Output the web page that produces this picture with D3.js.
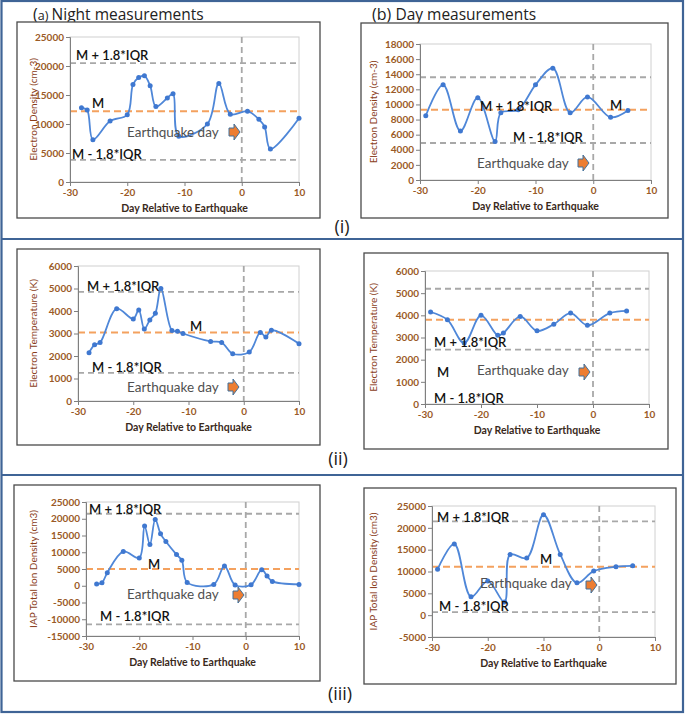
<!DOCTYPE html>
<html><head><meta charset="utf-8">
<script src="https://cdn.jsdelivr.net/npm/d3@7"></script>
<style>
html,body{margin:0;padding:0;background:#fff;}
svg{display:block;font-family:Lato,"Open Sans",sans-serif;}
</style></head>
<body>
<svg id="chart" width="685" height="715"></svg>
<script>
// ---------------- DATA ----------------
const xTicks = [-30, -20, -10, 0, 10];
const refLabels = ["M + 1.8*IQR", "M", "M - 1.8*IQR"];
const eqLabel = "Earthquake day";
const xTitle = "Day Relative to Earthquake";
const rowLabels = ["(i)", "(ii)", "(iii)"];

// (a)(i) night electron density
const nightDensityDays = [-28,-27,-26,-23,-20,-19,-18,-17,-16,-15,-13,-12,-11,-6,-4,-2,1,3,4,5,10];
const nightDensityVals = [12800,12400,7300,10500,11600,16800,18000,18300,16600,13000,14500,15200,7900,10000,17000,11700,12200,10800,9500,5700,11000];
const nightDensityRefs = [20500, 12200, 3800];
const nightDensityTicks = [0,5000,10000,15000,20000,25000];

// (b)(i) day electron density
const dayDensityDays = [-29,-26,-23,-20,-17,-16,-13,-10,-7,-4,-1,3,6];
const dayDensityVals = [8500,12600,6500,10900,5100,8900,9300,12600,14800,8900,11000,8300,9200];
const dayDensityRefs = [13600, 9300, 4900];
const dayDensityTicks = [0,2000,4000,6000,8000,10000,12000,14000,16000,18000];

// (a)(ii) night electron temperature
const nightTempDays = [-28,-27,-26,-23,-20,-19,-18,-17,-16,-15,-13,-12,-11,-6,-4,-2,1,3,4,5,10];
const nightTempVals = [2150,2500,2600,4100,3650,4050,3200,3600,3900,5000,3130,3100,3000,2650,2600,2100,2180,3050,2850,3150,2550];
const nightTempRefs = [4850, 3050, 1250];
const nightTempTicks = [0,1000,2000,3000,4000,5000,6000];

// (b)(ii) day electron temperature
const dayTempDays = [-29,-26,-23,-20,-17,-16,-13,-10,-7,-4,-1,3,6];
const dayTempVals = [4150,3800,2750,4000,3100,3200,3950,3300,3600,4100,3550,4100,4200];
const dayTempRefs = [5200, 3800, 2450];
const dayTempTicks = [0,1000,2000,3000,4000,5000,6000];

// (a)(iii) night IAP total ion density
const nightIonDays = [-28,-27,-26,-23,-20,-19,-18,-17,-16,-15,-13,-12,-11,-6,-4,-2,1,3,4,5,10];
const nightIonVals = [500,900,3900,10200,8300,17800,12300,19800,15500,13200,9300,7600,1000,400,5900,200,300,4800,2900,1300,400];
const nightIonRefs = [21500, 5000, -11500];
const nightIonTicks = [-15000,-10000,-5000,0,5000,10000,15000,20000,25000];

// (b)(iii) day IAP total ion density
const dayIonDays = [-29,-26,-23,-20,-17,-16,-13,-10,-7,-4,-1,3,6];
const dayIonVals = [10500,16300,4200,7800,3000,13900,13100,23000,13900,7400,10100,11100,11300];
const dayIonRefs = [21500, 11100, 700];
const dayIonTicks = [-5000,0,5000,10000,15000,20000,25000];

// ---------------- LAYOUT ----------------
const panels = [
  {days: nightDensityDays, vals: nightDensityVals, refs: nightDensityRefs, ticks: nightDensityTicks,
   ytitle: "Electron Density (cm-3)",
   box: [17,22,320,218], px: [70,299], py: [182,37], ytX: 33,
   lab: [[76,60],[92,108],[72,159]], eq: [127,137], arrow: [229,132]},
  {days: dayDensityDays, vals: dayDensityVals, refs: dayDensityRefs, ticks: dayDensityTicks,
   ytitle: "Electron Density (cm-3)",
   box: [361,23,668,218], px: [420,651], py: [180,44], ytX: 373,
   lab: [[480,111],[610,110],[513,142]], eq: [477,168], arrow: [578,163]},
  {days: nightTempDays, vals: nightTempVals, refs: nightTempRefs, ticks: nightTempTicks,
   ytitle: "Electron Temperature (K)",
   box: [17,249,320,445], px: [78,299], py: [401,266], ytX: 33,
   lab: [[87,291],[190,331],[92,372]], eq: [127,392], arrow: [228,387]},
  {days: dayTempDays, vals: dayTempVals, refs: dayTempRefs, ticks: dayTempTicks,
   ytitle: "Electron Temperature (K)",
   box: [364,253,668,449], px: [425,649], py: [404,271], ytX: 373,
   lab: [[434,347],[437,377],[434,403]], eq: [477,375], arrow: [579,372]},
  {days: nightIonDays, vals: nightIonVals, refs: nightIonRefs, ticks: nightIonTicks,
   ytitle: "IAP Total Ion Density (cm3)",
   box: [14,485,320,681], px: [86,299], py: [636,502], ytX: 33,
   lab: [[89,514],[148,569],[100,621]], eq: [127,599], arrow: [233,595]},
  {days: dayIonDays, vals: dayIonVals, refs: dayIonRefs, ticks: dayIonTicks,
   ytitle: "IAP Total Ion Density (cm3)",
   box: [364,488,676,684], px: [432,655], py: [637,506], ytX: 373,
   lab: [[437,522],[540,564],[439,611]], eq: [480,588], arrow: [586,585]}
];

const svg = d3.select("#chart");
const BLUE_FRAME = "#3f6496";
const LINE = "#4f87d8";
const TICK_COL = "#9a5a26";

// outer frame + row separators
svg.append("rect").attr("x",1.5).attr("y",1).attr("width",681.5).attr("height",711)
  .attr("fill","none").attr("stroke",BLUE_FRAME).attr("stroke-width",2.2);
[239, 475].forEach(y => svg.append("line").attr("x1",1).attr("x2",683).attr("y1",y).attr("y2",y)
  .attr("stroke",BLUE_FRAME).attr("stroke-width",2.2));

// row labels
[[342,233],[338,465],[340,700]].forEach((p,i) => svg.append("text").attr("x",p[0]).attr("y",p[1])
  .attr("text-anchor","middle").attr("font-family","'Open Sans',sans-serif").attr("font-size",18).attr("fill","#222").text(rowLabels[i]));

// titles
const tA = svg.append("text").attr("x",33).attr("y",20).attr("fill","#222").attr("font-family","'Open Sans',sans-serif");
tA.append("tspan").attr("font-size",16).text("(");
tA.append("tspan").attr("font-size",12.5).text("a) ");
tA.append("tspan").attr("font-size",15.5).text("Night measurements");
const tB = svg.append("text").attr("x",372).attr("y",20).attr("fill","#222").attr("font-family","'Open Sans',sans-serif");
tB.append("tspan").attr("font-size",16).text("(b) ");
tB.append("tspan").attr("font-size",15.5).text("Day measurements");

panels.forEach(p => {
  const g = svg.append("g");
  // chart box
  g.append("rect").attr("x",p.box[0]).attr("y",p.box[1]).attr("width",p.box[2]-p.box[0]).attr("height",p.box[3]-p.box[1])
    .attr("fill","#fff").attr("stroke","#4a4a4a").attr("stroke-width",1.3);

  const x = d3.scaleLinear().domain([-30,10]).range(p.px);
  const y = d3.scaleLinear().domain([p.ticks[0], p.ticks[p.ticks.length-1]]).range(p.py);
  const top = y.range()[1], bot = y.range()[0];

  // plot area outline
  g.append("rect").attr("x",p.px[0]).attr("y",top).attr("width",p.px[1]-p.px[0]).attr("height",bot-top)
    .attr("fill","none").attr("stroke","#d0d0d0").attr("stroke-width",1);

  // reference lines
  [0,2].forEach(i => g.append("line").attr("x1",p.px[0]).attr("x2",p.px[1])
    .attr("y1",y(p.refs[i])).attr("y2",y(p.refs[i]))
    .attr("stroke","#a8a8a8").attr("stroke-width",1.8).attr("stroke-dasharray","6,4"));
  g.append("line").attr("x1",x(0)).attr("x2",x(0)).attr("y1",top).attr("y2",bot)
    .attr("stroke","#a8a8a8").attr("stroke-width",1.8).attr("stroke-dasharray","6,4");
  g.append("line").attr("x1",p.px[0]).attr("x2",p.px[1])
    .attr("y1",y(p.refs[1])).attr("y2",y(p.refs[1]))
    .attr("stroke","#f4a15e").attr("stroke-width",2).attr("stroke-dasharray","7,4");

  // axes
  const ya = g.append("g").attr("transform",`translate(${p.px[0]},0)`)
    .call(d3.axisLeft(y).tickValues(p.ticks).tickSize(4).tickPadding(2).tickFormat(d => String(d)));
  const xa = g.append("g").attr("transform",`translate(0,${bot})`)
    .call(d3.axisBottom(x).tickValues(xTicks).tickSize(4).tickPadding(3).tickFormat(d => String(d)));
  [ya, xa].forEach(a => {
    a.select(".domain").attr("stroke","#7f7f7f");
    a.selectAll(".tick line").attr("stroke","#7f7f7f");
    a.selectAll(".tick text").attr("fill",TICK_COL).attr("font-size",10).attr("font-weight","bold")
      .attr("font-family","Lato,sans-serif");
  });

  // axis titles
  g.append("text").attr("x",(p.px[0]+p.px[1])/2).attr("y",bot+30).attr("text-anchor","middle")
    .attr("font-size",10.5).attr("font-weight","bold").attr("fill","#3a2a1c").text(xTitle);
  g.append("text").attr("transform",`translate(${p.ytX},${(top+bot)/2}) rotate(-90)`).attr("text-anchor","middle")
    .attr("dy","0.35em").attr("font-size",10).attr("fill","#8a3d1a").text(p.ytitle);

  // series
  const pts = p.days.map((d,i) => [d, p.vals[i]]);
  g.append("path").datum(pts)
    .attr("d", d3.line().x(d => x(d[0])).y(d => y(d[1])).curve(d3.curveCatmullRom.alpha(0.5)))
    .attr("fill","none").attr("stroke",LINE).attr("stroke-width",1.8);
  g.selectAll("circle").data(pts).join("circle")
    .attr("cx", d => x(d[0])).attr("cy", d => y(d[1])).attr("r",2.5).attr("fill","#3f78d0");

  // annotations
  p.lab.forEach((l,i) => g.append("text").attr("x",l[0]).attr("y",l[1])
    .attr("font-size",13).attr("font-weight",600).attr("fill","#111").text(refLabels[i]));
  g.append("text").attr("x",p.eq[0]).attr("y",p.eq[1]).attr("font-size",13.5).attr("fill","#505050").text(eqLabel);
  const ax = p.arrow[0], ay = p.arrow[1];
  g.append("path")
    .attr("d",`M${ax},${ay-4} L${ax+5},${ay-4} L${ax+5},${ay-8} L${ax+11},${ay} L${ax+5},${ay+8} L${ax+5},${ay+4} L${ax},${ay+4} Z`)
    .attr("fill","#ed7d31").attr("stroke","#41719c").attr("stroke-width",1);
});
</script>
</body></html>
